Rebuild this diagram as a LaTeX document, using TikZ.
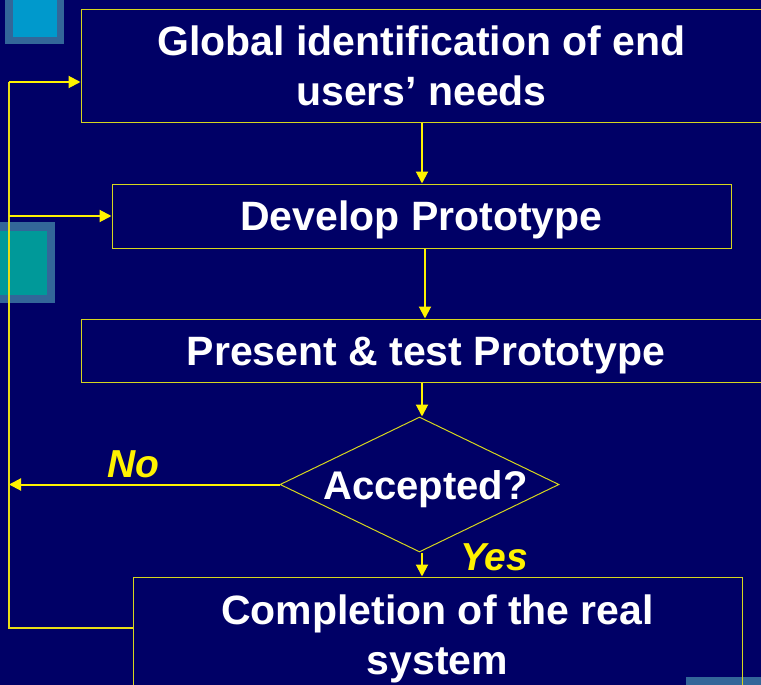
\documentclass[tikz,border=0pt]{standalone}
\usepackage{fontspec}
\setmainfont{Liberation Sans}
\usepackage{xcolor}
\usetikzlibrary{positioning, calc, arrows.meta, shapes.geometric}
\definecolor{bgnavy}{RGB}{0,0,102}
\definecolor{tileblue}{RGB}{51,102,153}
\definecolor{tilecyan}{RGB}{0,153,204}
\definecolor{tileteal}{RGB}{0,153,153}
\definecolor{rimyellow}{RGB}{214,214,30}
\tikzset{
  stepbox/.style={draw=rimyellow, line width=1pt, align=center, text=white,
    inner sep=0pt, font=\bfseries\fontsize{41}{50}\selectfont},
  oneline/.style={text height=29pt, text depth=0pt},
  flow/.style={draw=yellow, line width=2pt, -{Triangle[length=12pt,width=12pt]}},
  loopline/.style={draw=yellow!90!black, line width=1.8pt},
  answer/.style={text=yellow, font=\bfseries\itshape\fontsize{39}{46}\selectfont}
}

\begin{document}
\begin{tikzpicture}[x=1pt, y=-1pt]
    \fill[bgnavy](0,0)rectangle(761,685);
    \useasboundingbox(0,0)rectangle(761,685);
    \fill[tileblue](5,-2)rectangle(64,44);
    \fill[tilecyan](13,-2)rectangle(57,37);
    \fill[tileblue](-2,222)rectangle(55,303);
    \fill[tileteal](-2,231)rectangle(47,295);
    \fill[tileblue](686,677)rectangle(770,690);
    \node[stepbox, minimum width=681pt, minimum height=112pt](glob) at (421.5,66)
      {Global identification of end\\users’ needs};
    \node[stepbox, oneline, minimum width=619pt, minimum height=64pt](devel) at (421.5,216)
      {Develop Prototype};
    \node[stepbox, oneline, minimum width=690pt, minimum height=63pt](test) at (426,350.5)
      {Present \& test Prototype};
    \node[stepbox, oneline, diamond, shape aspect=2.07, minimum width=279pt, minimum height=135pt,
      font=\bfseries\fontsize{40}{50}\selectfont](acc) at (419.5,484.5){\hspace*{12pt}Accepted?};
    \node[stepbox, minimum width=609pt, minimum height=124pt](done) at (437.5,639)
      {Completion of the real\\system};
    \node[answer](no) at (133.5,464.5){No};
    \node[answer](yes) at (494,557){Yes};
    \coordinate(lp) at (9,628);
    \coordinate(top) at (9,82);
    \draw[flow]([xshift=0.5pt]glob.south)--([xshift=0.5pt]devel.north);
    \draw[flow]([xshift=3.5pt]devel.south)--([xshift=3.5pt]devel.south |- test.north);
    \draw[flow]([xshift=2.5pt]acc.north |- test.south)--([xshift=2.5pt]acc.north);
    \draw[flow]([xshift=2.5pt]acc.south)--([xshift=2.5pt]acc.south |- done.north);
    \draw[flow](acc.west)--(acc.west -| lp);
    \draw[loopline](lp -| done.west)--(lp)--(top);
    \draw[flow](top)--(top -| glob.west);
    \draw[flow](devel.west -| lp)--(devel.west);
  \end{tikzpicture}
\end{document}
